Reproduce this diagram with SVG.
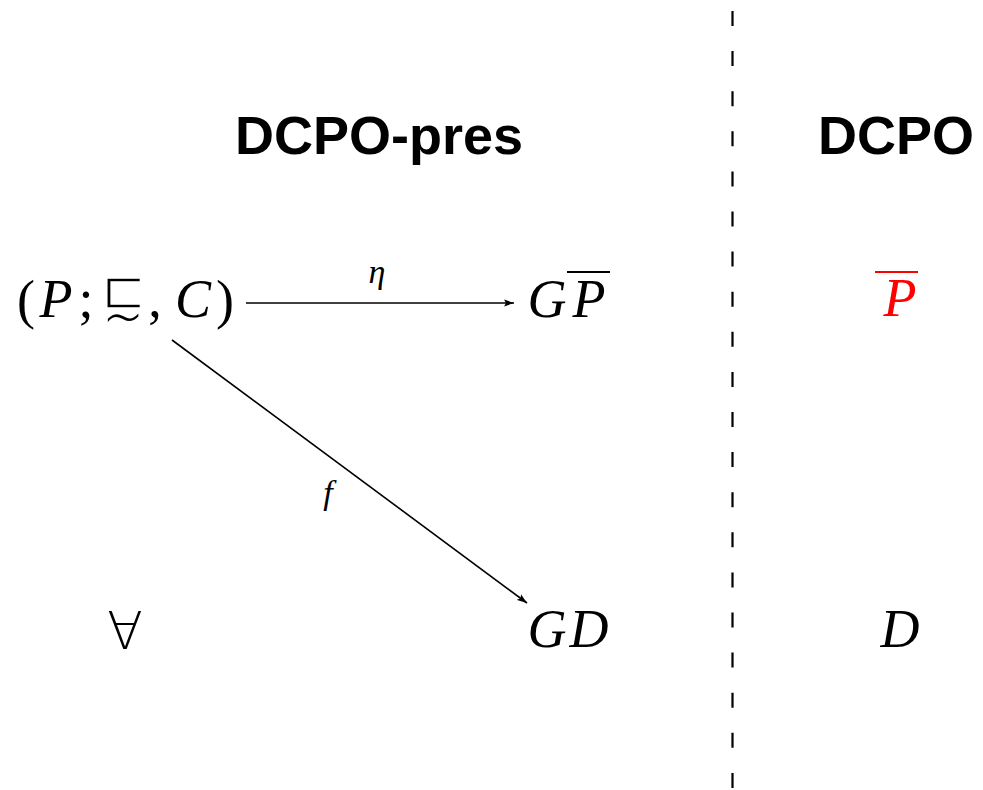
<svg xmlns="http://www.w3.org/2000/svg" width="983" height="790" viewBox="0 0 983 790">
<style>
.title{font-family:"Liberation Sans",Arial,sans-serif;font-weight:bold;font-size:54px;fill:#000;text-anchor:middle}
.m{font-family:"Liberation Serif","Times New Roman",serif;font-style:italic;font-size:54px;fill:#000;text-anchor:middle}
.r{font-family:"Liberation Serif","Times New Roman",serif;font-size:54px;fill:#000;text-anchor:middle}
.sym{font-family:"DejaVu Sans",sans-serif;font-weight:200;fill:#000;text-anchor:middle}
.thin{stroke:#fff;stroke-width:1.6}
.lbl{font-family:"Liberation Serif","Times New Roman",serif;font-style:italic;font-size:34px;fill:#000;text-anchor:middle}
.edge{stroke:#000;stroke-width:1.6;fill:none}
.bar{stroke-width:1.8}
</style>
<defs>
<marker id="ah" viewBox="0 0 10 8" refX="10" refY="4" markerWidth="10" markerHeight="8" markerUnits="userSpaceOnUse" orient="auto">
<path d="M0,0.5 L10,4 L0,7.5 L2,4 Z" fill="#000"/>
</marker>
</defs>
<rect width="983" height="790" fill="#fff"/>
<g id="divider">
<line x1="732.5" y1="11" x2="732.5" y2="790" stroke="#000" stroke-width="2.2" stroke-dasharray="15 25.1"/>
</g>
<g id="title-pres"><text class="title" x="379" y="154">DCPO-pres</text></g>
<g id="title-dcpo"><text class="title" x="896" y="154">DCPO</text></g>
<g id="node-source">
<text class="r" x="26" y="318">(</text>
<text class="m" x="56" y="317">P</text>
<text class="r" x="86" y="317">;</text>
<text class="sym"><tspan class="thin" x="123" y="308" font-size="54">⊏</tspan><tspan x="123" y="340" font-size="64">∼</tspan></text>
<text class="r" x="155" y="317">,</text>
<text class="m" x="193" y="317">C</text>
<text class="r" x="225" y="318">)</text>
</g>
<g id="node-GPbar">
<text class="m" x="547" y="317">G</text>
<text class="m" x="589" y="317">P</text>
<line x1="567" y1="272" x2="610" y2="272" stroke="#000" class="bar"/>
</g>
<g id="node-Pbar">
<text class="m" x="900" y="316" style="fill:#ff0000">P</text>
<line x1="875" y1="272" x2="918" y2="272" stroke="#ff0000" class="bar"/>
</g>
<g id="node-forall"><text class="sym" x="125" y="649" font-size="52">∀</text></g>
<g id="node-GD">
<text class="m" x="547" y="647">G</text>
<text class="m" x="589" y="647">D</text>
</g>
<g id="node-D"><text class="m" x="900" y="647">D</text></g>
<g id="connectors">
<line class="edge" x1="246" y1="303" x2="514" y2="303" marker-end="url(#ah)"/>
<line class="edge" x1="172" y1="340" x2="527" y2="603" marker-end="url(#ah)"/>
<text class="lbl" x="377" y="283">η</text>
<text class="lbl" x="328" y="504">f</text>
</g>
</svg>
